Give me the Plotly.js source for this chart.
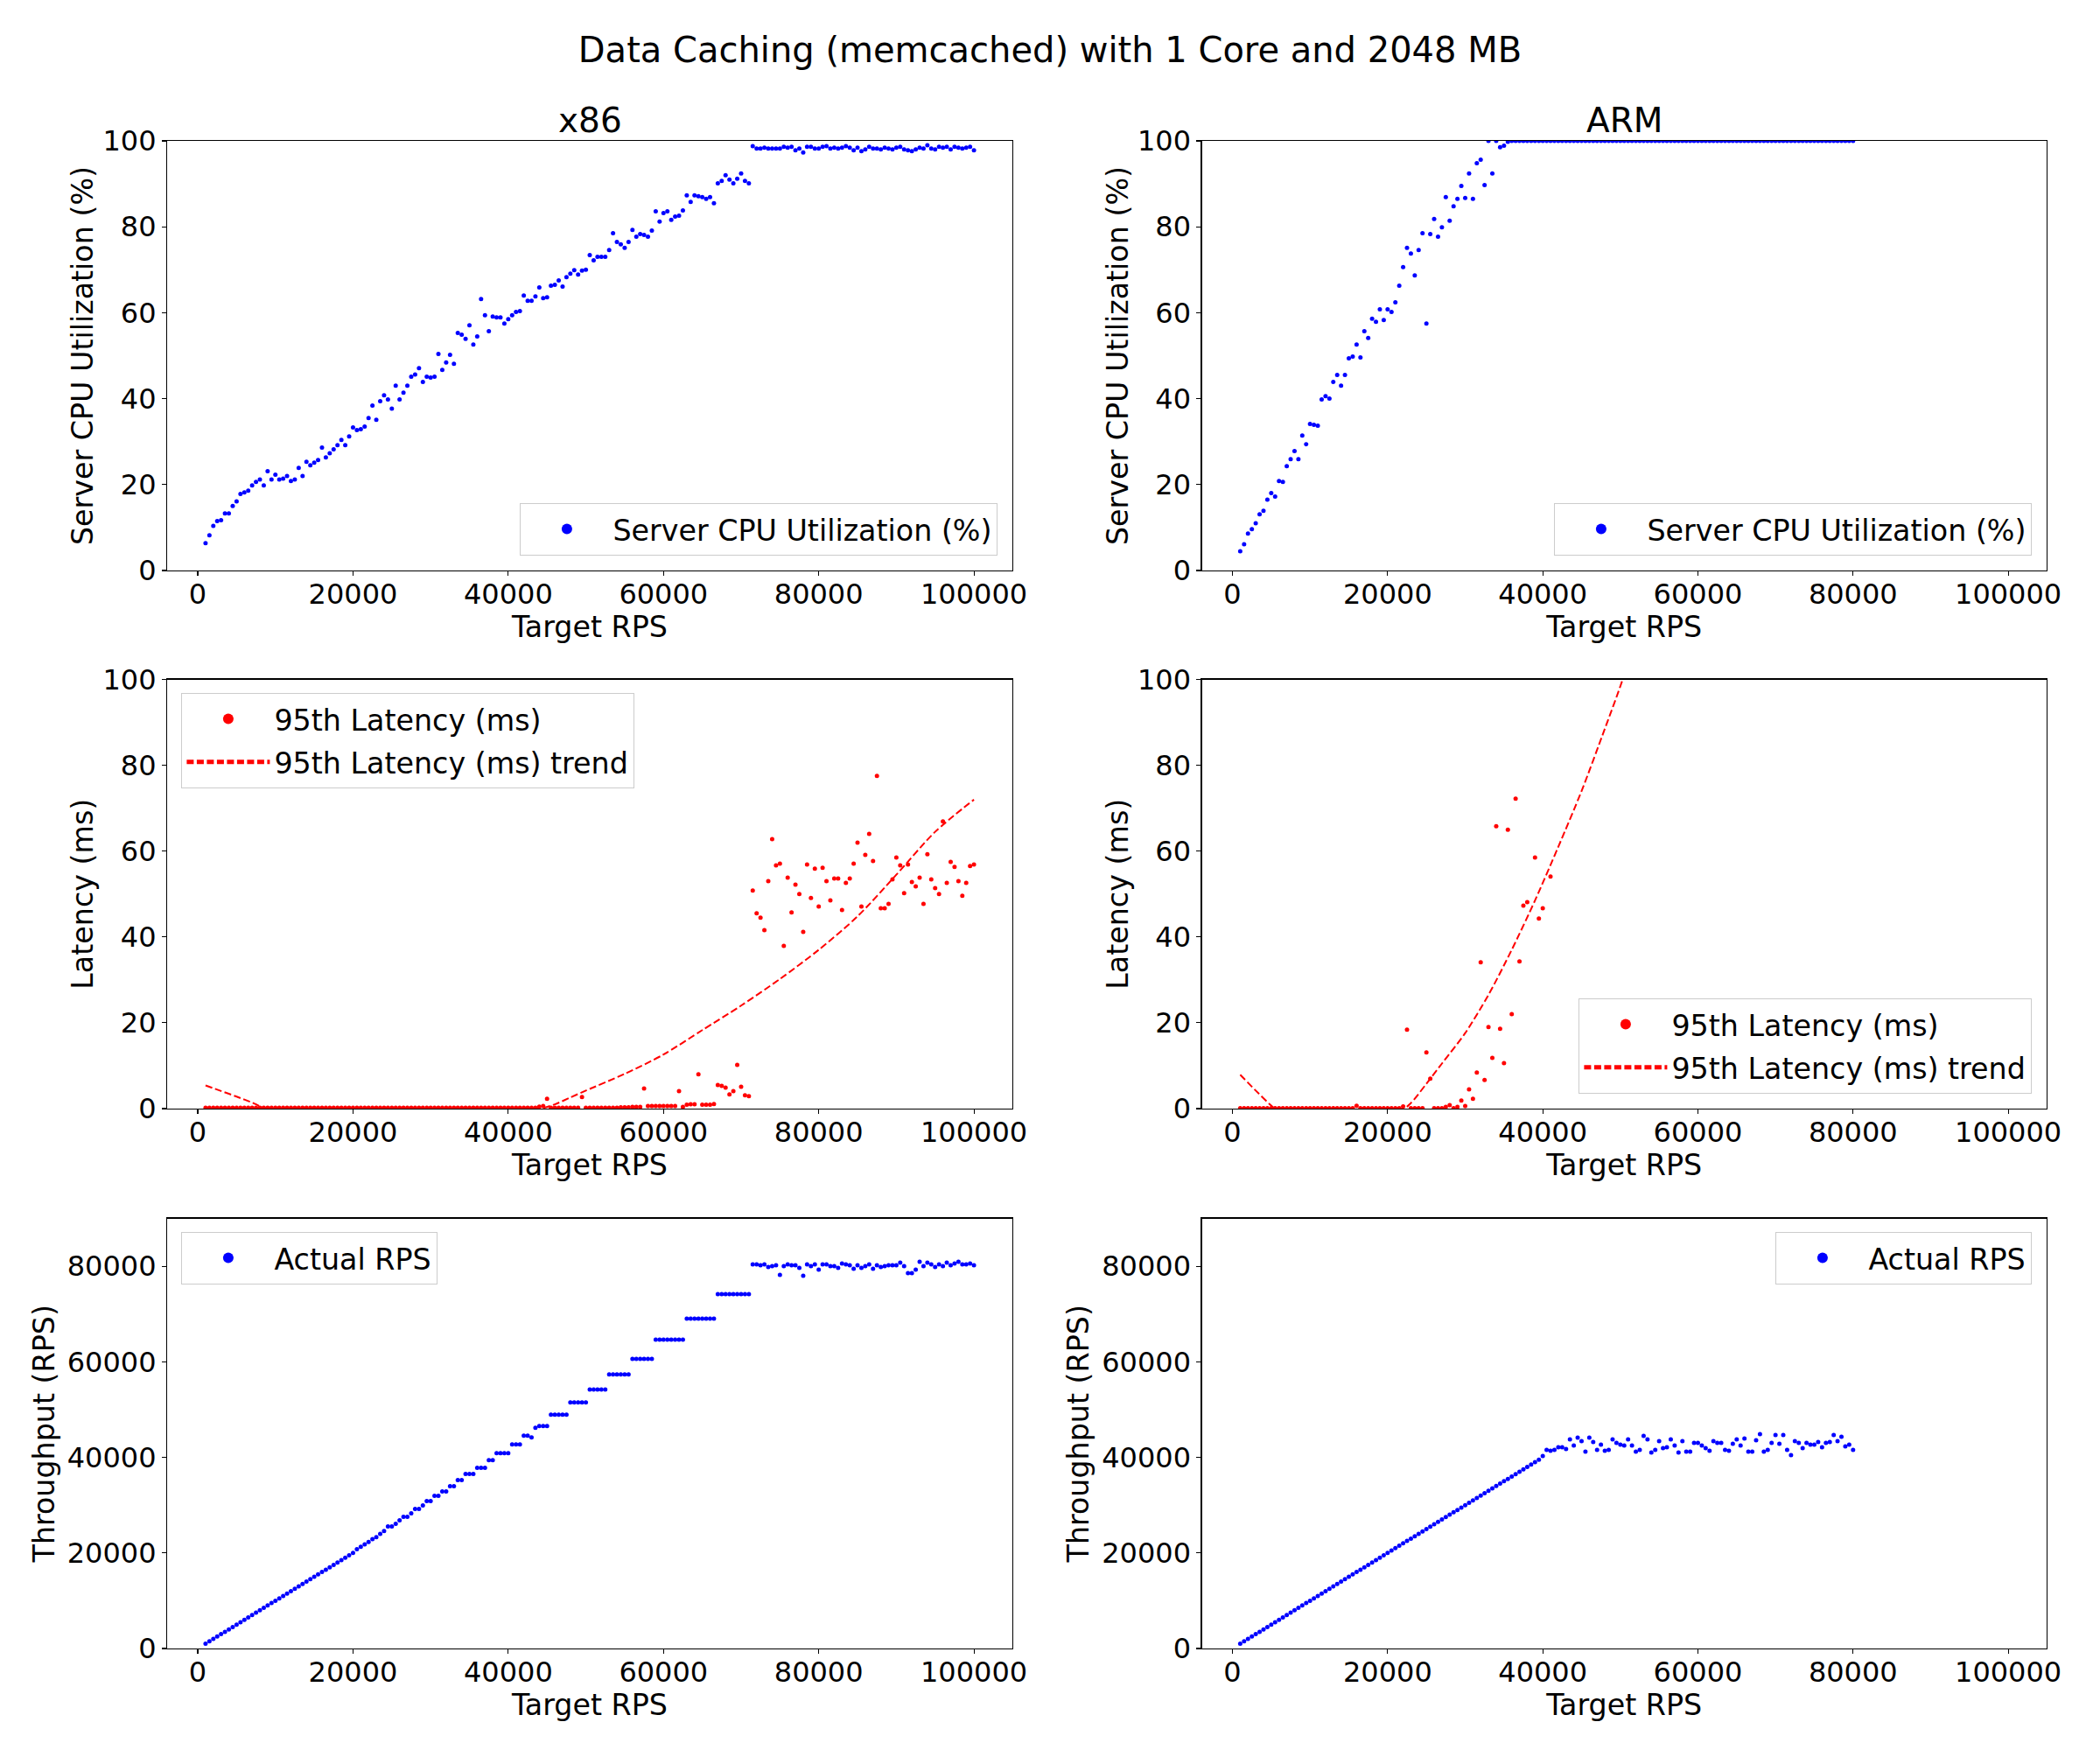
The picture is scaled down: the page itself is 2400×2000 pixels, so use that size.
<!DOCTYPE html>
<html>
<head>
<meta charset="utf-8">
<script src="https://cdn.plot.ly/plotly-3.0.1.min.js"></script>
<style>html,body{margin:0;padding:0;background:#fff;}#chart{width:2400px;height:2000px;}</style>
</head>
<body>
<div id="chart"></div>
<script>
// ---------------- DATA ----------------
const x86TargetRps = [
 1000,1500,2000,2500,3000,3500,4000,4500,5000,5500,6000,6500,7000,7500,8000,8500,9000,9500,10000,10500,
 11000,11500,12000,12500,13000,13500,14000,14500,15000,15500,16000,16500,17000,17500,18000,18500,19000,19500,20000,20500,
 21000,21500,22000,22500,23000,23500,24000,24500,25000,25500,26000,26500,27000,27500,28000,28500,29000,29500,30000,30500,
 31000,31500,32000,32500,33000,33500,34000,34500,35000,35500,36000,36500,37000,37500,38000,38500,39000,39500,40000,40500,
 41000,41500,42000,42500,43000,43500,44000,44500,45000,45500,46000,46500,47000,47500,48000,48500,49000,49500,50000,50500,
 51000,51500,52000,52500,53000,53500,54000,54500,55000,55500,56000,56500,57000,57500,58000,58500,59000,59500,60000,60500,
 61000,61500,62000,62500,63000,63500,64000,64500,65000,65500,66000,66500,67000,67500,68000,68500,69000,69500,70000,70500,
 71000,71500,72000,72500,73000,73500,74000,74500,75000,75500,76000,76500,77000,77500,78000,78500,79000,79500,80000,80500,
 81000,81500,82000,82500,83000,83500,84000,84500,85000,85500,86000,86500,87000,87500,88000,88500,89000,89500,90000,90500,
 91000,91500,92000,92500,93000,93500,94000,94500,95000,95500,96000,96500,97000,97500,98000,98500,99000,99500,100000
];
const x86Cpu = [
 6.35,8.2,10.4,11.5,11.7,13.3,13.3,15.0,16.1,17.8,18.2,18.6,19.8,20.6,21.2,19.8,23.1,21.2,22.3,21.2,
 21.4,22.0,20.8,21.2,23.9,22.0,25.3,24.5,25.1,25.7,28.6,26.3,27.3,28.2,29.2,30.4,29.2,31.2,33.3,32.7,
 32.9,33.5,35.5,38.4,35.1,39.4,40.8,39.8,37.7,43.0,39.8,41.4,43.0,45.1,45.6,47.1,43.9,45.1,44.9,45.1,
 50.4,46.7,48.4,50.2,48.1,55.3,54.9,53.9,57.1,52.6,54.5,63.2,59.4,55.7,59.1,58.9,58.9,57.5,58.5,59.4,
 60.2,60.4,64.0,62.8,62.8,63.8,65.9,63.4,63.6,66.3,66.5,67.5,66.1,68.3,69.1,69.9,68.9,69.8,70.0,73.4,
 72.2,73.0,73.0,73.0,74.6,78.5,76.5,75.9,75.1,76.5,79.3,77.7,78.3,78.1,77.7,79.1,83.6,81.2,83.2,83.6,
 81.6,82.4,82.6,83.8,87.3,85.8,87.3,87.1,86.9,86.5,86.9,85.5,90.1,90.7,92.0,91.0,90.1,91.2,92.4,90.7,
 90.1,98.8,98.2,98.2,98.4,98.2,98.2,98.2,98.2,98.6,98.4,98.6,97.8,98.2,97.3,98.6,98.6,98.2,98.2,98.6,
 98.8,98.2,98.4,98.2,98.4,98.8,98.4,97.8,98.4,97.6,98.0,98.6,98.2,98.2,98.0,98.4,98.2,98.0,98.4,98.6,
 98.0,97.8,97.6,98.0,98.4,98.2,99.0,98.2,98.0,98.6,98.4,98.6,98.0,98.6,98.4,98.2,98.4,98.6,97.8
];
const x86Latency = [
 0.2,0.2,0.2,0.2,0.2,0.2,0.2,0.2,0.2,0.2,0.2,0.2,0.2,0.2,0.2,0.2,0.2,0.2,0.2,0.2,
 0.2,0.2,0.2,0.2,0.2,0.2,0.2,0.2,0.2,0.2,0.2,0.2,0.2,0.2,0.2,0.2,0.2,0.2,0.2,0.2,
 0.2,0.2,0.2,0.2,0.2,0.2,0.2,0.2,0.2,0.2,0.2,0.2,0.2,0.2,0.2,0.2,0.2,0.2,0.2,0.2,
 0.2,0.2,0.2,0.2,0.2,0.2,0.2,0.2,0.2,0.2,0.2,0.2,0.2,0.2,0.2,0.2,0.2,0.2,0.2,0.2,
 0.2,0.2,0.2,0.2,0.2,0.2,0.44,0.6,2.3,0.2,0.2,0.2,0.2,0.2,0.2,0.2,0.2,2.7,0.2,0.2,
 0.2,0.2,0.2,0.2,0.2,0.2,0.2,0.3,0.3,0.3,0.4,0.4,0.4,4.7,0.6,0.6,0.6,0.6,0.6,0.6,
 0.6,0.6,4.1,0.4,0.9,1.0,1.0,8.0,0.9,0.9,0.9,1.05,5.5,5.3,4.9,3.3,4.1,10.2,5.1,3.1,
 2.9,50.8,45.5,44.5,41.6,53.0,62.8,56.7,57.1,37.9,53.8,45.7,52.2,50.0,41.2,56.9,49.1,55.9,47.1,56.1,
 53.0,48.5,53.6,53.6,46.3,52.6,53.6,57.1,62.0,47.1,59.1,64.0,57.7,77.5,46.7,46.7,47.7,53.4,58.5,56.7,
 50.2,56.9,52.8,51.8,53.8,47.7,59.3,53.4,51.4,50.0,66.9,52.6,57.5,56.3,53.0,49.6,52.6,56.5,56.9
];
const x86TrendRps = [1000,3000,5000,7000,9000,44000,46000,48000,50000,55000,60000,65000,70000,75000,80000,85000,90000,95000,100000];
const x86TrendLatency = [5.4,4.1,2.8,1.4,0,0,1.0,2.6,4.2,8.1,12.6,18.3,24.0,30.2,37.0,44.8,54.5,64.5,72.0];
const x86ActualRps = [
 1000,1500,2000,2500,3000,3500,4000,4500,5000,5500,6000,6500,7000,7500,8000,8500,9000,9500,10000,10500,
 11000,11500,12000,12500,13000,13500,14000,14500,15000,15500,16000,16500,17000,17500,18000,18500,19000,19500,20000,20800,
 21300,21800,22300,22900,23300,24000,24600,25540,25540,26100,26830,27550,27550,28280,29200,29200,29940,30850,30850,31940,
 31940,32860,32860,33950,33950,35230,35230,36510,36510,36510,37790,37790,37790,39420,39420,40880,40880,40880,40880,42700,
 42700,42700,44530,44530,44170,46170,46540,46540,46540,48920,48920,48920,48920,48920,51480,51480,51480,51480,51480,54220,
 54220,54220,54220,54220,57340,57340,57340,57340,57340,57340,60630,60630,60630,60630,60630,60630,64650,64650,64650,64650,
 64650,64650,64650,64650,69040,69040,69040,69040,69040,69040,69040,69040,74160,74160,74160,74160,74160,74160,74160,74160,
 74160,80370,80370,80190,80370,79820,80000,80190,78180,80000,80370,80190,80190,79640,78000,80370,80000,80370,79270,80370,
 80370,80000,80000,79640,80550,80370,80190,79460,80190,79640,80000,80370,79460,80190,79820,80000,80190,80190,80190,80740,
 80000,78540,78540,79270,80920,80000,80740,80370,79820,80370,80000,80740,80190,80550,80920,80370,80370,80550,80190
];

const armTargetRps = [
 1000,1500,2000,2500,3000,3500,4000,4500,5000,5500,6000,6500,7000,7500,8000,8500,9000,9500,10000,10500,
 11000,11500,12000,12500,13000,13500,14000,14500,15000,15500,16000,16500,17000,17500,18000,18500,19000,19500,20000,20500,
 21000,21500,22000,22500,23000,23500,24000,24500,25000,25500,26000,26500,27000,27500,28000,28500,29000,29500,30000,30500,
 31000,31500,32000,32500,33000,33500,34000,34500,35000,35500,36000,36500,37000,37500,38000,38500,39000,39500,40000,40500,
 41000,41500,42000,42500,43000,43500,44000,44500,45000,45500,46000,46500,47000,47500,48000,48500,49000,49500,50000,50500,
 51000,51500,52000,52500,53000,53500,54000,54500,55000,55500,56000,56500,57000,57500,58000,58500,59000,59500,60000,60500,
 61000,61500,62000,62500,63000,63500,64000,64500,65000,65500,66000,66500,67000,67500,68000,68500,69000,69500,70000,70500,
 71000,71500,72000,72500,73000,73500,74000,74500,75000,75500,76000,76500,77000,77500,78000,78500,79000,79500,80000
];
const armCpu = [
 4.5,6.1,8.6,9.6,11.0,13.1,13.9,16.5,18.0,17.2,20.8,20.6,24.3,25.9,27.8,25.9,31.4,29.4,34.1,33.9,
 33.7,39.8,40.6,40.0,43.9,45.5,43.0,45.5,49.4,49.8,52.6,49.6,55.7,54.1,58.6,57.9,60.8,58.3,60.8,60.2,
 62.4,66.3,70.6,75.1,73.8,68.7,74.6,78.5,57.5,78.3,81.8,77.7,79.9,86.9,81.4,84.8,86.5,89.5,86.7,92.4,
 86.5,94.8,95.6,89.7,100,92.4,100,98.5,98.9,99.8,100,100,100,100,100,100,100,100,100,100,
 100,100,100,100,100,100,100,100,100,100,100,100,100,100,100,100,100,100,100,100,
 100,100,100,100,100,100,100,100,100,100,100,100,100,100,100,100,100,100,100,100,
 100,100,100,100,100,100,100,100,100,100,100,100,100,100,100,100,100,100,100,100,
 100,100,100,100,100,100,100,100,100,100,100,100,100,100,100,100,100,100,100
];
const armLatencyRps = [
 1000,1500,2000,2500,3000,3500,4000,4500,5000,5500,6000,6500,7000,7500,8000,8500,9000,9500,10000,10500,
 11000,11500,12000,12500,13000,13500,14000,14500,15000,15500,16000,16500,17000,17500,18000,18500,19000,19500,20000,20500,
 21000,21500,22000,22500,23000,23500,24000,24500,25000,25500,26000,26500,27000,27500,28000,28500,29000,29500,30000,30500,
 31000,31500,32000,32500,33000,33500,34000,34500,35000,35500,36000,36500,37000,37500,38000,
 39000,39500,40000,41000
];
const armLatency = [
 0.1,0.1,0.1,0.1,0.1,0.1,0.1,0.1,0.1,0.1,0.1,0.1,0.1,0.1,0.1,0.1,0.1,0.1,0.1,0.1,
 0.1,0.1,0.1,0.1,0.1,0.1,0.1,0.1,0.1,0.1,0.65,0.1,0.1,0.1,0.1,0.1,0.1,0.1,0.1,0.1,
 0.1,0.1,0.5,18.4,0.1,0.1,0.1,0.1,13.1,7.0,0.1,0.1,0.1,0.4,0.8,0.1,0.4,1.9,0.6,4.5,
 2.3,8.4,34.1,6.7,19.0,11.8,65.8,18.6,10.6,65.0,22.0,72.2,34.3,47.3,48.1,
 58.5,44.3,46.7,54.1
];
const armTrendRps = [1000,3000,5000,5500,22000,23000,25000,27000,30000,33000,36000,39000,42000,45000,48000,50300,52000];
const armTrendLatency = [7.9,4.2,0.7,0,0,1.3,5.8,10.5,17.6,26.5,37.0,48.5,61.0,74.0,88.5,100,110];
const armActualRps = [
 1000,1500,2000,2500,3000,3500,4000,4500,5000,5500,6000,6500,7000,7500,8000,8500,9000,9500,10000,10500,
 11000,11500,12000,12500,13000,13500,14000,14500,15000,15500,16000,16500,17000,17500,18000,18500,19000,19500,20000,20500,
 21000,21500,22000,22500,23000,23500,24000,24500,25000,25500,26000,26500,27000,27500,28000,28500,29000,29500,30000,30500,
 31000,31500,32000,32500,33000,33500,34000,34500,35000,35500,36000,36500,37000,37500,38000,38500,39000,39500,40265,41550,
 41365,41550,42100,42100,41730,43750,42470,44120,43390,41190,44120,43200,41550,42650,41370,41550,43750,43020,42650,42470,
 43750,42470,41190,41550,44480,43750,41000,41550,43390,41920,42100,43750,42470,41000,43390,41190,41190,43020,43020,42470,
 41920,41370,43390,43020,43020,41550,41370,42830,43750,42470,43940,41190,41190,43570,44850,41190,41550,43020,44670,42830,
 44670,41550,40450,43390,43020,41920,43020,42650,42650,43200,42100,43020,43200,44670,43390,44300,42280,42650,41550
];

const xTicks = [0,20000,40000,60000,80000,100000];
const pctTicks = [0,20,40,60,80,100];
const rpsTicks = [0,20000,40000,60000,80000];

// ---------------- LAYOUT ----------------
const FONT = 'DejaVu Sans, Liberation Sans, sans-serif';
const W = 2400, H = 2000;
const colX = [[191/W, 1157/W], [1373.5/W, 2339/W]];
const rowY = [[1-652/H, 1-161/H], [1-1267/H, 1-776.5/H], [1-1884/H, 1-1392.5/H]];
const TICK_SIZE = 32;

function xAxis(col, row, anchor) {
  return {
    domain: colX[col], anchor: anchor, range: [-3950, 104950],
    tickvals: xTicks, tickformat: 'd', ticks: 'outside', ticklen: 5, tickwidth: 1.1, tickcolor: '#000',
    ticklabelstandoff: -7,
    showline: true, mirror: true, linecolor: '#000', linewidth: 1.1,
    showgrid: false, zeroline: false,
    tickfont: {family: FONT, size: TICK_SIZE, color: '#000'},
    title: {text: 'Target RPS', font: {family: FONT, size: 33.3, color: '#000'}, standoff: 4}
  };
}
function yAxis(col, row, anchor, range, ticks, title, standoff) {
  return {
    domain: rowY[row], anchor: anchor, range: range,
    tickvals: ticks, tickformat: 'd', ticks: 'outside', ticklen: 5, tickwidth: 1.1, tickcolor: '#000',
    showline: true, mirror: true, linecolor: '#000', linewidth: 1.1,
    showgrid: false, zeroline: false,
    tickfont: {family: FONT, size: TICK_SIZE, color: '#000'},
    title: {text: title, font: {family: FONT, size: 33.3, color: '#000'}, standoff: standoff}
  };
}

const mk = (c) => ({color: c, size: 5});
const trendLine = {color: 'red', width: 2, dash: '8px,3.5px', shape: 'spline', smoothing: 0.8};
const traces = [
  {x: x86TargetRps, y: x86Cpu, xaxis: 'x', yaxis: 'y', type: 'scatter', mode: 'markers', marker: mk('blue'), name: 'Server CPU Utilization (%)', legend: 'legend'},
  {x: armTargetRps, y: armCpu, xaxis: 'x2', yaxis: 'y2', type: 'scatter', mode: 'markers', marker: mk('blue'), name: 'Server CPU Utilization (%)', legend: 'legend2'},
  {x: x86TargetRps, y: x86Latency, xaxis: 'x3', yaxis: 'y3', type: 'scatter', mode: 'markers', marker: mk('red'), name: '95th Latency (ms)', legend: 'legend3', legendgroup: 'a3'},
  {x: x86TrendRps, y: x86TrendLatency, xaxis: 'x3', yaxis: 'y3', type: 'scatter', mode: 'lines', line: trendLine, name: '95th Latency (ms) trend', legend: 'legend3', legendgroup: 'b3'},
  {x: armLatencyRps, y: armLatency, xaxis: 'x4', yaxis: 'y4', type: 'scatter', mode: 'markers', marker: mk('red'), name: '95th Latency (ms)', legend: 'legend4', legendgroup: 'a4'},
  {x: armTrendRps, y: armTrendLatency, xaxis: 'x4', yaxis: 'y4', type: 'scatter', mode: 'lines', line: trendLine, name: '95th Latency (ms) trend', legend: 'legend4', legendgroup: 'b4'},
  {x: x86TargetRps, y: x86ActualRps, xaxis: 'x5', yaxis: 'y5', type: 'scatter', mode: 'markers', marker: mk('blue'), name: 'Actual RPS', legend: 'legend5'},
  {x: armTargetRps, y: armActualRps, xaxis: 'x6', yaxis: 'y6', type: 'scatter', mode: 'markers', marker: mk('blue'), name: 'Actual RPS', legend: 'legend6'}
];

function leg(x, y, xa, ya) {
  return {
    x: x, y: y, xanchor: xa, yanchor: ya, xref: 'paper', yref: 'paper',
    bgcolor: 'rgba(255,255,255,0.8)', bordercolor: '#cccccc', borderwidth: 1.4,
    font: {family: FONT, size: 33.3, color: '#000'},
    itemwidth: 95, traceorder: 'grouped', tracegroupgap: 3, itemsizing: 'constant'
  };
}

const layout = {
  width: W, height: H,
  margin: {l: 0, r: 0, t: 0, b: 0},
  paper_bgcolor: '#fff', plot_bgcolor: '#fff',
  font: {family: FONT, color: '#000'},
  title: {text: 'Data Caching (memcached) with 1 Core and 2048 MB', font: {family: FONT, size: 40, color: '#000'},
          x: 0.5, xanchor: 'center', y: 1 - 57/H, yanchor: 'middle'},
  xaxis: xAxis(0, 0, 'y'),
  xaxis2: xAxis(1, 0, 'y2'),
  xaxis3: xAxis(0, 1, 'y3'),
  xaxis4: xAxis(1, 1, 'y4'),
  xaxis5: xAxis(0, 2, 'y5'),
  xaxis6: xAxis(1, 2, 'y6'),
  yaxis: yAxis(0, 0, 'x', [0, 100], pctTicks, 'Server CPU Utilization (%)', 0),
  yaxis2: yAxis(1, 0, 'x2', [0, 100], pctTicks, 'Server CPU Utilization (%)', 0),
  yaxis3: yAxis(0, 1, 'x3', [0, 100], pctTicks, 'Latency (ms)', 0),
  yaxis4: yAxis(1, 1, 'x4', [0, 100], pctTicks, 'Latency (ms)', 0),
  yaxis5: yAxis(0, 2, 'x5', [0, 90000], rpsTicks, 'Throughput (RPS)', 4),
  yaxis6: yAxis(1, 2, 'x6', [0, 90000], rpsTicks, 'Throughput (RPS)', 4),
  legend:  leg(1140/W, 1-635/H, 'right', 'bottom'),
  legend2: leg(2322/W, 1-635/H, 'right', 'bottom'),
  legend3: leg(207/W, 1-792/H, 'left', 'top'),
  legend4: leg(2322/W, 1-1250/H, 'right', 'bottom'),
  legend5: leg(207/W, 1-1408/H, 'left', 'top'),
  legend6: leg(2322/W, 1-1408/H, 'right', 'top'),
  annotations: [
    {text: 'x86', xref: 'paper', yref: 'paper', x: 674/W, y: 1-138/H, xanchor: 'center', yanchor: 'middle', showarrow: false, font: {family: FONT, size: 39, color: '#000'}},
    {text: 'ARM', xref: 'paper', yref: 'paper', x: 1856/W, y: 1-138/H, xanchor: 'center', yanchor: 'middle', showarrow: false, font: {family: FONT, size: 39, color: '#000'}}
  ],
  showlegend: true
};

Plotly.newPlot('chart', traces, layout, {staticPlot: true, displayModeBar: false});
</script>
</body>
</html>
